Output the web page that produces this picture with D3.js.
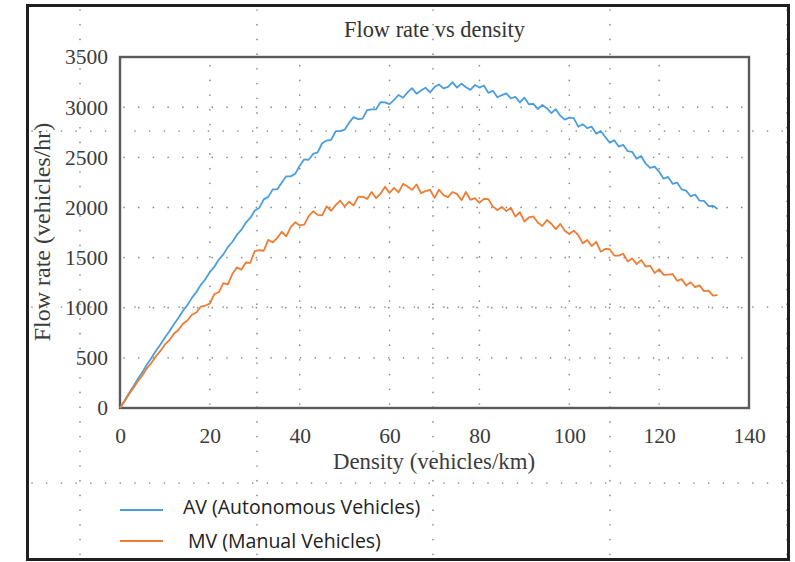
<!DOCTYPE html>
<html>
<head>
<meta charset="utf-8">
<script src="https://cdn.jsdelivr.net/npm/d3@7"></script>
<style>
  html, body { margin: 0; padding: 0; background: #fff; }
  svg { display: block; }
</style>
</head>
<body>
<svg id="chart" width="795" height="562"></svg>
<script>
// ---------------- DATA ----------------
const title = "Flow rate vs density";
const xTitle = "Density (vehicles/km)";
const yTitle = "Flow rate (vehicles/hr)";
const xTicks = [0, 20, 40, 60, 80, 100, 120, 140];
const yTicks = [0, 500, 1000, 1500, 2000, 2500, 3000, 3500];
const seriesNames = ["AV (Autonomous Vehicles)", " MV (Manual Vehicles)"];
const seriesColors = ["#4a9ede", "#ee7d33"];

// density values (vehicles/km), one reading per unit of density
const density = d3.range(0, 134);

// AV flow (vehicles/hr)
const avFlow = [
  0,72,148,217,292,358,433,499,570,633,703,766,836,898,970,1026,1098,1156,1228,1284,
  1356,1408,1480,1532,1604,1655,1726,1776,1848,1895,
  1970,1995,2080,2105,2180,2180,2245,2310,2310,2335,2415,2480,2475,2535,2548,2640,2667,2674,2760,2760,
  2775,2845,2900,2880,2885,2970,2977,2979,3051,3048,3030,3073,3121,3094,3147,3190,3133,3166,3194,3147,
  3200,3226,3187,3203,3249,3195,3234,3198,3172,3221,3195,3216,3142,3163,3099,3120,3138,3086,3104,3047,
  3095,3029,3033,2982,3021,2990,2940,2980,2915,2875,2895,2890,2805,2830,2790,2805,2734,2763,2702,2646,
  2670,2607,2624,2561,2553,2485,2513,2436,2394,2407,2355,2287,2304,2236,2248,2180,2168,2111,2129,2067,
  2065,2013,2016,1985
];

// MV flow (vehicles/hr)
const mvFlow = [
  0,66,137,200,270,327,396,450,517,569,634,676,741,778,840,872,930,952,1012,1022,
  1040,1137,1154,1246,1233,1335,1402,1379,1451,1448,1565,1574,1568,1677,1651,1695,1758,1711,1804,1852,
  1820,1829,1913,1962,1926,1920,2011,1967,2023,2069,2010,2057,2019,2106,2108,2085,2154,2093,2137,2206,
  2145,2195,2150,2235,2208,2175,2229,2143,2162,2176,2095,2176,2122,2103,2154,2135,2072,2154,2076,2093,
  2045,2086,2082,2008,1974,2005,1963,1996,1909,1952,1860,1900,1910,1850,1815,1875,1837,1784,1836,1768,
  1735,1769,1723,1642,1676,1615,1657,1559,1586,1583,1520,1519,1538,1462,1491,1435,1475,1410,1420,1345,
  1385,1327,1329,1336,1268,1285,1222,1254,1206,1223,1165,1170,1120,1125
];

// ---------------- LAYOUT ----------------
const svg = d3.select("#chart");
const W = 795, H = 562;
const plot = { left: 120, right: 749, top: 57, bottom: 408 };

const x = d3.scaleLinear().domain([0, 140]).range([plot.left, plot.right]);
const y = d3.scaleLinear().domain([0, 3500]).range([plot.bottom, plot.top]);

svg.append("rect").attr("width", W).attr("height", H).attr("fill", "#fff");

const dotStyle = sel => sel
  .attr("stroke", "#8c8c8c")
  .attr("stroke-width", 1.7)
  .attr("stroke-linecap", "round")
  .attr("stroke-dasharray", "0.01,14.7")
  .attr("fill", "none");

// background page grid (dotted), spans whole picture
const pageCols = [80, 257, 433, 610, 787];
const pageRows = [131, 307, 483];
const pg = svg.append("g");
pg.selectAll("line.pc").data(pageCols).join("line")
  .attr("x1", d => d).attr("x2", d => d).attr("y1", 10).attr("y2", 560).call(dotStyle);
pg.selectAll("line.pr").data(pageRows).join("line")
  .attr("y1", d => d).attr("y2", d => d).attr("x1", 32).attr("x2", 790).call(dotStyle);

// chart gridlines (dotted) inside the plot
const g = svg.append("g");
g.selectAll("line.gx").data(xTicks.filter(t => t > 0 && t < 140)).join("line")
  .attr("x1", d => x(d)).attr("x2", d => x(d))
  .attr("y1", plot.bottom - 4).attr("y2", plot.top + 4).call(dotStyle);
g.selectAll("line.gy").data(yTicks.filter(t => t > 0 && t < 3500)).join("line")
  .attr("y1", d => y(d)).attr("y2", d => y(d))
  .attr("x1", plot.left + 4).attr("x2", plot.right - 4).call(dotStyle);

// plot frame
svg.append("rect")
  .attr("x", plot.left).attr("y", plot.top)
  .attr("width", plot.right - plot.left).attr("height", plot.bottom - plot.top)
  .attr("fill", "none").attr("stroke", "#5a5a5a").attr("stroke-width", 2.4);

// axes
const serif = "'Liberation Serif', 'Times New Roman', serif";
const xAxis = svg.append("g").attr("transform", `translate(0,${plot.bottom})`)
  .call(d3.axisBottom(x).tickValues(xTicks).tickSize(0).tickPadding(20).tickFormat(d3.format("d")));
const yAxis = svg.append("g").attr("transform", `translate(${plot.left},0)`)
  .call(d3.axisLeft(y).tickValues(yTicks).tickSize(0).tickPadding(12).tickFormat(d3.format("d")));
[xAxis, yAxis].forEach(a => {
  a.select(".domain").remove();
  a.selectAll("text").attr("font-family", serif).attr("font-size", 21.5).attr("fill", "#3c3c3c");
});

// series lines
const line = d3.line().x((d, i) => x(density[i])).y(d => y(d));
[avFlow, mvFlow].forEach((s, k) => {
  svg.append("path").datum(s)
    .attr("d", line)
    .attr("fill", "none")
    .attr("stroke", seriesColors[k])
    .attr("stroke-width", 1.8)
    .attr("stroke-linejoin", "round");
});

// titles
svg.append("text").text(title)
  .attr("x", 434.5).attr("y", 37).attr("text-anchor", "middle")
  .attr("font-family", serif).attr("font-size", 22.4).attr("fill", "#333");
svg.append("text").text(xTitle)
  .attr("x", 434).attr("y", 469).attr("text-anchor", "middle")
  .attr("font-family", serif).attr("font-size", 22.8).attr("fill", "#3c3c3c");
svg.append("text").text(yTitle)
  .attr("transform", "translate(50,232) rotate(-90)").attr("text-anchor", "middle")
  .attr("font-family", serif).attr("font-size", 24).attr("fill", "#3c3c3c");

// legend
const legY = [510, 541];
const legTextX = [183, 183];
const legTextY = [514, 548];
seriesNames.forEach((name, k) => {
  svg.append("line")
    .attr("x1", 120).attr("x2", 163).attr("y1", legY[k]).attr("y2", legY[k])
    .attr("stroke", seriesColors[k]).attr("stroke-width", 2);
  svg.append("text").text(name)
    .attr("x", legTextX[k]).attr("y", legTextY[k])
    .attr("xml:space", "preserve").style("white-space", "pre")
    .attr("font-family", "'Open Sans', 'Noto Sans', sans-serif").attr("font-size", 19.5)
    .attr("fill", "#222");
});

// outer border
svg.append("rect")
  .attr("x", 27.5).attr("y", 5.5).attr("width", 761).attr("height", 554)
  .attr("fill", "none").attr("stroke", "#1e1e1e").attr("stroke-width", 3);
</script>
</body>
</html>
